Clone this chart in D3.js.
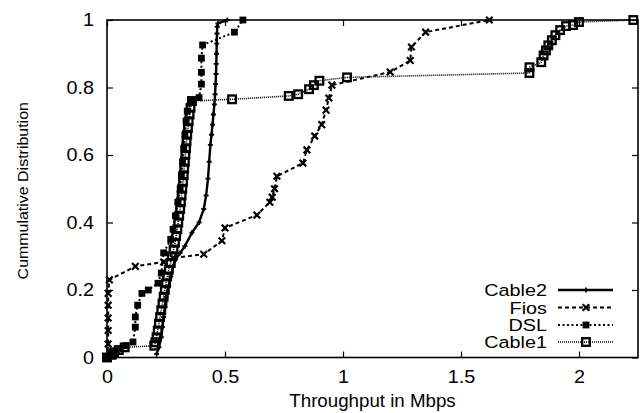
<!DOCTYPE html>
<html>
<head>
<meta charset="utf-8">
<script src="https://cdn.jsdelivr.net/npm/d3@7"></script>
<style>
  body { margin: 0; background: #fff; }
  svg { display: block; }
  text { font-family: "Liberation Sans", Arial, Helvetica, sans-serif; fill: #000; }
</style>
</head>
<body>
<svg id="chart" width="642" height="413"></svg>
<script>
// ---- data ----
const seriesNames = ["Cable2", "Fios", "DSL", "Cable1"];

const cable2X = [0.21,0.22,0.23,0.235,0.24,0.245,0.25,0.26,0.27,0.28,0.29,0.31,0.33,0.36,0.39,0.41,0.42,0.428,0.433,0.438,0.443,0.447,0.451,0.455,0.458,0.46,0.462,0.463,0.464,0.465,0.466,0.467,0.47,0.51];
const cable2Y = [0.01,0.03,0.06,0.09,0.12,0.15,0.18,0.21,0.24,0.27,0.29,0.31,0.33,0.37,0.40,0.44,0.48,0.53,0.58,0.63,0.66,0.69,0.72,0.75,0.78,0.81,0.84,0.87,0.90,0.93,0.96,0.98,0.99,1.0];

const fiosX = [0.0,0.005,0.005,0.005,0.005,0.005,0.01,0.12,0.24,0.28,0.41,0.487,0.5,0.635,0.69,0.70,0.71,0.72,0.83,0.847,0.88,0.91,0.928,0.94,0.953,1.2,1.285,1.29,1.35,1.62];
const fiosY = [0.0,0.04,0.08,0.117,0.155,0.19,0.23,0.27,0.283,0.295,0.306,0.346,0.384,0.422,0.46,0.475,0.5,0.537,0.576,0.615,0.656,0.69,0.733,0.769,0.807,0.846,0.88,0.92,0.964,1.0];

const dslX = [0.0,0.02,0.04,0.08,0.11,0.12,0.12,0.13,0.148,0.175,0.216,0.23,0.24,0.27,0.28,0.29,0.3,0.31,0.315,0.32,0.325,0.33,0.335,0.34,0.36,0.39,0.4,0.4,0.4,0.405,0.54,0.576];
const dslY = [0.0,0.01,0.02,0.035,0.046,0.09,0.12,0.155,0.19,0.2,0.22,0.25,0.31,0.35,0.38,0.42,0.46,0.5,0.54,0.58,0.62,0.66,0.7,0.73,0.76,0.77,0.81,0.845,0.887,0.926,0.964,1.0];

const cable1X = [0.0,0.02,0.03,0.05,0.075,0.2,0.205,0.21,0.215,0.22,0.225,0.23,0.235,0.24,0.245,0.25,0.255,0.262,0.27,0.275,0.282,0.288,0.293,0.298,0.302,0.306,0.31,0.313,0.316,0.319,0.322,0.325,0.327,0.33,0.332,0.335,0.337,0.34,0.343,0.346,0.35,0.354,0.36,0.53,0.77,0.81,0.856,0.877,0.9,1.017,1.79,1.79,1.84,1.85,1.86,1.87,1.885,1.9,1.92,1.945,1.975,2.0,2.23];
const cable1Y = [0.0,0.008,0.015,0.022,0.03,0.035,0.045,0.06,0.08,0.1,0.12,0.14,0.16,0.18,0.2,0.22,0.24,0.26,0.28,0.3,0.32,0.34,0.36,0.38,0.4,0.42,0.44,0.46,0.48,0.5,0.52,0.54,0.56,0.58,0.6,0.62,0.64,0.66,0.68,0.7,0.72,0.74,0.76,0.765,0.775,0.78,0.795,0.807,0.82,0.83,0.843,0.86,0.875,0.895,0.91,0.925,0.94,0.955,0.97,0.982,0.985,0.994,1.0];

const xTicks = [0, 0.5, 1, 1.5, 2];
const xTickLabels = ["0", "0.5", "1", "1.5", "2"];
const yTicks = [0, 0.2, 0.4, 0.6, 0.8, 1];
const yTickLabels = ["0", "0.2", "0.4", "0.6", "0.8", "1"];

// ---- layout ----
const L = 107, R = 638, T = 20, B = 357.5;
const svg = d3.select("#chart");
const x = d3.scaleLinear().domain([0, 2.25]).range([L, R]);
const y = d3.scaleLinear().domain([0, 1]).range([B, T]);

const zip = (xs, ys) => xs.map((v, i) => [v, ys[i]]);
const series = [
  { name: "Cable2", pts: zip(cable2X, cable2Y), dash: null, marker: "plus", width: 2.4 },
  { name: "Fios", pts: zip(fiosX, fiosY), dash: "4,3", marker: "cross", width: 2 },
  { name: "DSL", pts: zip(dslX, dslY), dash: "2,2.5", marker: "fsquare", width: 2 },
  { name: "Cable1", pts: zip(cable1X, cable1Y), dash: "1,1", marker: "osquare", width: 1.6 }
];

// axes (ticks inward on all four sides)
function styleAxis(g) {
  g.select(".domain").remove();
  g.selectAll(".tick line").attr("stroke", "#000").attr("stroke-width", 1.2);
  g.selectAll("text").style("font-size", "18px").attr("fill", "#000");
}
const gx = svg.append("g").attr("transform", `translate(0,${B})`)
  .call(d3.axisBottom(x).tickValues(xTicks).tickFormat((d, i) => xTickLabels[i]).tickSizeInner(-6).tickSizeOuter(0).tickPadding(13))
  .call(styleAxis);
gx.selectAll("text").attr("transform", "scale(1.1,1)");
svg.append("g").attr("transform", `translate(0,${T})`)
  .call(d3.axisTop(x).tickValues(xTicks).tickFormat("").tickSizeInner(-6).tickSizeOuter(0))
  .call(styleAxis);
const gy = svg.append("g").attr("transform", `translate(${L},0)`)
  .call(d3.axisLeft(y).tickValues(yTicks).tickFormat((d, i) => yTickLabels[i]).tickSizeInner(-6).tickSizeOuter(0).tickPadding(13))
  .call(styleAxis);
gy.selectAll("text").attr("x", null).attr("transform", "translate(-13,0) scale(1.1,1)");
svg.append("g").attr("transform", `translate(${R},0)`)
  .call(d3.axisRight(y).tickValues(yTicks).tickFormat("").tickSizeInner(-6).tickSizeOuter(0))
  .call(styleAxis);

// border
svg.append("rect").attr("x", L).attr("y", T).attr("width", R - L).attr("height", B - T)
  .attr("fill", "none").attr("stroke", "#000").attr("stroke-width", 1.6);

// axis labels
svg.append("text").attr("transform", `translate(${(L + R) / 2},407) scale(1.07,1)`).attr("text-anchor", "middle")
  .style("font-size", "17.5px").text("Throughput in Mbps");
svg.append("text").attr("transform", `translate(28,${(T + B) / 2 + 2}) rotate(-90) scale(1.03,1)`).attr("text-anchor", "middle")
  .style("font-size", "15.5px").text("Cummulative Distribution");

// markers
function drawMarker(g, type, cx, cy) {
  if (type === "plus") {
    const s = 2.5;
    g.append("path").attr("d", `M${cx - s},${cy}H${cx + s}M${cx},${cy - s}V${cy + s}`)
      .attr("stroke", "#000").attr("stroke-width", 1.8).attr("fill", "none");
  } else if (type === "cross") {
    const s = 3.3;
    g.append("path").attr("d", `M${cx - s},${cy - s}L${cx + s},${cy + s}M${cx - s},${cy + s}L${cx + s},${cy - s}`)
      .attr("stroke", "#000").attr("stroke-width", 2.2).attr("fill", "none");
  } else if (type === "fsquare") {
    const s = 3.4;
    g.append("rect").attr("x", cx - s).attr("y", cy - s).attr("width", 2 * s).attr("height", 2 * s).attr("fill", "#000");
  } else if (type === "osquare") {
    const s = 3.8;
    g.append("rect").attr("x", cx - s).attr("y", cy - s).attr("width", 2 * s).attr("height", 2 * s)
      .attr("fill", "none").attr("stroke", "#000").attr("stroke-width", 2.3);
  }
}

const line = d3.line().x(d => x(d[0])).y(d => y(d[1]));
const plot = svg.append("g");
// draw Cable1 first (bottom), then DSL, Fios, Cable2
[3, 2, 1, 0].forEach(i => {
  const s = series[i];
  const g = plot.append("g");
  g.append("path").datum(s.pts).attr("d", line).attr("fill", "none").attr("stroke", "#000")
    .attr("stroke-width", s.width).attr("stroke-dasharray", s.dash);
  s.pts.forEach(p => drawMarker(g, s.marker, x(p[0]), y(p[1])));
});

// legend
const legY = [290, 307.5, 325, 342];
series.forEach((s, i) => {
  const g = svg.append("g");
  g.append("text").attr("transform", `translate(547,${legY[i] + 6}) scale(1.2,1)`).attr("text-anchor", "end")
    .style("font-size", "16.5px").text(s.name);
  g.append("line").attr("x1", 558).attr("x2", 613).attr("y1", legY[i]).attr("y2", legY[i])
    .attr("stroke", "#000").attr("stroke-width", s.width).attr("stroke-dasharray", s.dash);
  drawMarker(g, s.marker, 586, legY[i]);
});
</script>
</body>
</html>
